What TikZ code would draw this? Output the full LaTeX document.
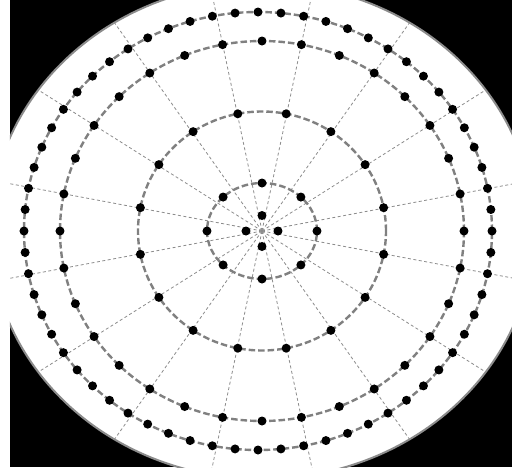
\documentclass[tikz,border=0pt]{standalone}
\begin{document}
\begin{tikzpicture}[x=1pt,y=1pt,line join=round,
    spoke/.style={black!45,line width=0.8pt,dash pattern=on 3pt off 2.5pt},
    ring/.style={black!50,line width=2.4pt,dash pattern=on 6.5pt off 3pt},
    dot/.style={fill=black}]
  \def\s{1.06}
  \useasboundingbox (-262,-236) rectangle (250,231);
  \fill[white] (-262,-236) rectangle (250,231);
  \fill[black] (-252,-236) rectangle (250,231);
  \coordinate (O) at (0,0);
  \begin{scope}
    \clip (-252,-236) rectangle (250,231);
    \fill[white] (O) ellipse [x radius=272,y radius=248];
    \draw[black!45,line width=2pt] (O) ellipse [x radius=272,y radius=248];
    \clip (O) ellipse [x radius=271,y radius=247];
    % spokes
    \foreach \k in {0,...,15}
      \draw[spoke] (O) -- ({300*\s*cos(11.25+22.5*\k)},{300*sin(11.25+22.5*\k)});
  \end{scope}
  % rings: centre shift / radii
  \foreach \c/\rx/\ry in {0/55/48,0/124/119.5,0/202/190,-4/234/219}
    \draw[ring] (\c,0) ellipse [x radius=\rx,y radius=\ry];
  % samples
  \foreach \n/\c/\rx/\ry/\o in {4/0/16/15.5/0,8/0/55/48/0,16/0/124/119.5/11.25,32/0/202/190/0,64/-4/234/219/0}{
    \pgfmathsetmacro\d{360/\n}
    \foreach \k in {1,...,\n}
      \fill[dot] ({\c+\rx*cos(\o+\d*\k)},{\ry*sin(\o+\d*\k)}) circle (4.5pt);
  }
\end{tikzpicture}
\end{document}
